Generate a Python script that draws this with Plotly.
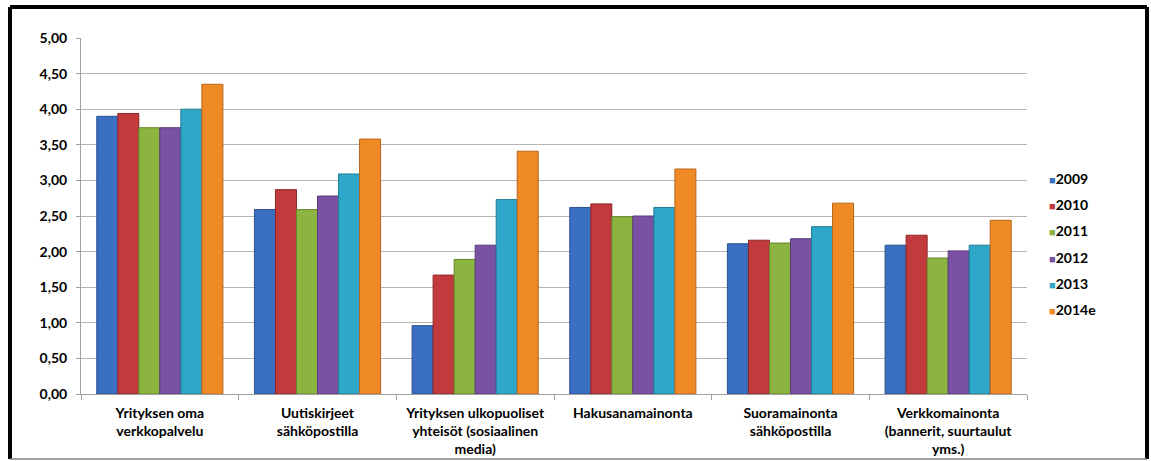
import plotly.graph_objects as go

categories = [
    "Yrityksen oma<br>verkkopalvelu",
    "Uutiskirjeet<br>sähköpostilla",
    "Yrityksen ulkopuoliset<br>yhteisöt (sosiaalinen<br>media)",
    "Hakusanamainonta",
    "Suoramainonta<br>sähköpostilla",
    "Verkkomainonta<br>(bannerit, suurtaulut<br>yms.)",
]
years = ["2009", "2010", "2011", "2012", "2013", "2014e"]

v2009 = [3.90, 2.59, 0.96, 2.62, 2.11, 2.09]
v2010 = [3.94, 2.87, 1.67, 2.67, 2.16, 2.23]
v2011 = [3.74, 2.59, 1.89, 2.49, 2.12, 1.91]
v2012 = [3.74, 2.78, 2.09, 2.50, 2.18, 2.01]
v2013 = [4.00, 3.09, 2.73, 2.62, 2.35, 2.09]
v2014e = [4.35, 3.58, 3.41, 3.16, 2.68, 2.44]

series = [v2009, v2010, v2011, v2012, v2013, v2014e]
colors = ["#3B6FC2", "#C23A3C", "#8CB440", "#7A51A3", "#2EA7C9", "#F08A26"]
edges = ["#2A508E", "#8E2628", "#66842C", "#573A78", "#1F7B95", "#B8651A"]

W, H = 1151, 461
L, R, T, B = 81, 124, 38, 67
pw, ph = W - L - R, H - T - B

def px_x(x):
    return (x - L) / pw

def px_y(y):
    return (H - B - y) / ph

font_family = "Lato, 'Open Sans', sans-serif"

fig = go.Figure()
for i, (name, vals) in enumerate(zip(years, series)):
    fig.add_trace(go.Bar(
        x=categories, y=vals, name=name, showlegend=False,
        marker=dict(color=colors[i], line=dict(color=edges[i], width=1)),
    ))

# compact legend entries: a small coloured square right next to the year
for i, name in enumerate(years):
    fig.add_trace(go.Scatter(
        x=[None], y=[None], mode="markers", legendgroup=name,
        name=f"<span style='color:{colors[i]}; font-size:11px'>■</span>{name}",
        marker=dict(size=1, color="rgba(0,0,0,0)",
                    line=dict(width=0, color="rgba(0,0,0,0)")),
        hoverinfo="skip",
    ))

# frame around the chart
frame = [
    (px_x(10), px_y(7), px_x(1147), px_y(7), "black", 4),
    (px_x(10), px_y(7), px_x(10), px_y(459), "black", 4),
    (px_x(1147), px_y(7), px_x(1147), px_y(459), "black", 4),
    (px_x(10), px_y(459), px_x(1147), px_y(459), "#808080", 1.5),
]
shapes = [
    dict(type="line", xref="paper", yref="paper", x0=a, y0=b, x1=c, y1=d,
         line=dict(color=col, width=w))
    for a, b, c, d, col, w in frame
]

fig.update_layout(
    width=W, height=H,
    margin=dict(l=L, r=R, t=T, b=B, pad=0, autoexpand=False),
    paper_bgcolor="white", plot_bgcolor="white",
    separators=", ",
    barmode="group", bargap=0.2, bargroupgap=0,
    font=dict(family=font_family, size=14, color="black"),
    showlegend=True,
    legend=dict(
        x=px_x(1009), y=px_y(163), xanchor="left", yanchor="top",
        font=dict(family=font_family, size=14, color="black", weight="bold"),
        tracegroupgap=5, itemwidth=30,
        bgcolor="rgba(0,0,0,0)",
    ),
    shapes=shapes,
)
fig.update_yaxes(
    range=[0, 5], dtick=0.5, tickformat=".2f",
    showgrid=True, gridcolor="#B4B4B4", gridwidth=1,
    showline=True, linecolor="#A0A0A0", linewidth=1,
    ticks="outside", ticklen=4, tickcolor="#A0A0A0",
    ticklabelstandoff=6, automargin=False,
    tickfont=dict(family=font_family, size=14, color="black", weight="bold"),
    zeroline=False,
)
fig.update_xaxes(
    showline=True, linecolor="#A0A0A0", linewidth=1,
    ticks="outside", ticklen=5, tickcolor="#A0A0A0", tickson="boundaries",
    ticklabelstandoff=6, automargin=False,
    tickfont=dict(family=font_family, size=14, color="black", weight="bold"),
    tickangle=0,
)

fig.write_html("out.html")
